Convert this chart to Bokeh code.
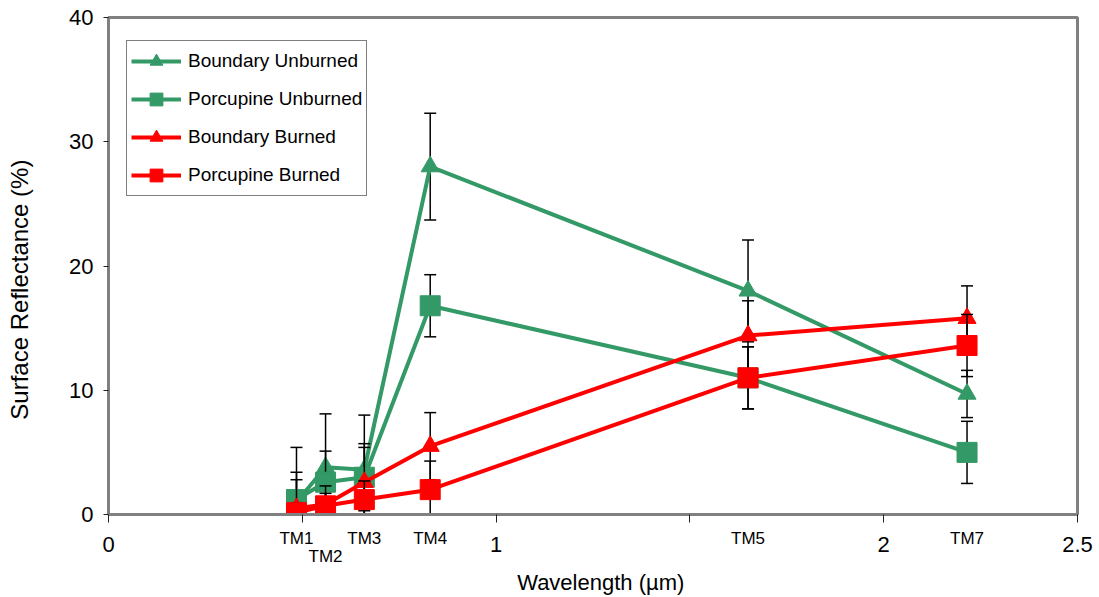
import math
from bokeh.plotting import figure
from bokeh.models import (Range1d, FixedTicker, Legend, LegendItem, Label,
                          ColumnDataSource, LinearAxis)
from bokeh.embed import file_html
from bokeh.resources import INLINE

# ---------------- data ----------------
bands = ["TM1", "TM2", "TM3", "TM4", "TM5", "TM7"]
wavelength = [0.485, 0.56, 0.66, 0.83, 1.65, 2.215]

series_names = ["Boundary Unburned", "Porcupine Unburned",
                "Boundary Burned", "Porcupine Burned"]

boundary_unburned = [1.0, 3.8, 3.6, 28.0, 18.0, 9.7]
porcupine_unburned = [1.2, 2.6, 3.0, 16.8, 11.0, 5.0]
boundary_burned = [0.5, 0.8, 2.6, 5.5, 14.4, 15.8]
porcupine_burned = [0.15, 0.7, 1.2, 2.0, 11.0, 13.6]

boundary_unburned_err = [4.4, 4.3, 4.4, 4.3, 4.1, 1.9]
porcupine_unburned_err = [2.2, 2.5, 2.7, 2.5, 2.5, 2.5]
boundary_burned_err = [2.3, 1.5, 2.8, 2.7, 2.8, 2.6]
porcupine_burned_err = [0.8, 1.0, 1.5, 2.3, 2.5, 2.5]

x_ticks = [0, 1, 2, 2.5]
x_tick_labels = ["0", "1", "2", "2.5"]
x_minor_ticks = [0.5, 1.5]
y_ticks = [0, 10, 20, 30, 40]

x_title = "Wavelength (µm)"
y_title = "Surface Reflectance (%)"

# ---------------- styles ----------------
FONT = "Liberation Sans"
GREEN = "#339966"
RED = "#FF0000"
GRAY = "#808080"

series = [
    (series_names[0], boundary_unburned, boundary_unburned_err, GREEN, "triangle", 18),
    (series_names[1], porcupine_unburned, porcupine_unburned_err, GREEN, "square", 20),
    (series_names[2], boundary_burned, boundary_burned_err, RED, "triangle", 18),
    (series_names[3], porcupine_burned, porcupine_burned_err, RED, "square", 20),
]

p = figure(width=1099, height=597,
           x_range=Range1d(0, 2.5), y_range=Range1d(0, 40),
           output_backend="svg", toolbar_location=None,
           min_border_left=108, min_border_right=22,
           min_border_top=17, min_border_bottom=83)
p.background_fill_color = "white"
p.border_fill_color = "white"
p.xgrid.visible = False
p.ygrid.visible = False
p.outline_line_color = GRAY
p.outline_line_width = 3

p.xaxis.ticker = FixedTicker(ticks=x_ticks, minor_ticks=x_minor_ticks)
p.xaxis.major_label_overrides = dict(zip(x_ticks, x_tick_labels))
p.yaxis.ticker = FixedTicker(ticks=y_ticks)

for ax in (p.xaxis[0], p.yaxis[0]):
    ax.axis_line_color = GRAY
    ax.axis_line_width = 3
    ax.major_tick_line_color = "#222222"
    ax.minor_tick_line_color = "#222222"
    ax.major_tick_in = 0
    ax.minor_tick_in = 0
    ax.major_label_text_font = FONT
    ax.major_label_text_font_size = "22px"
    ax.major_label_text_color = "black"
p.xaxis.major_tick_out = 8
p.xaxis.minor_tick_out = 8
p.xaxis.major_label_standoff = 14
p.yaxis.major_tick_out = 5
p.yaxis.minor_tick_out = 0
p.yaxis.major_label_standoff = 10


def band_axis(names, standoff):
    ticks = [wl for b, wl in zip(bands, wavelength) if b in names]
    labels = [b for b in bands if b in names]
    ax = LinearAxis(ticker=FixedTicker(ticks=ticks),
                    major_label_overrides=dict(zip(ticks, labels)),
                    axis_line_color=None, major_tick_line_color=None,
                    minor_tick_line_color=None,
                    major_tick_in=0, major_tick_out=0,
                    minor_tick_in=0, minor_tick_out=0,
                    major_label_standoff=standoff,
                    major_label_text_font=FONT,
                    major_label_text_font_size="17px",
                    major_label_text_color="black")
    p.add_layout(ax, "below")
    return ax


band_axis(["TM1", "TM3", "TM4", "TM5", "TM7"], -26)
band_axis(["TM2"], -8)

items = []
for name, vals, errs, color, marker, size in series:
    src = ColumnDataSource(dict(
        x=wavelength, y=vals,
        lo=[v - e for v, e in zip(vals, errs)],
        hi=[v + e for v, e in zip(vals, errs)],
    ))
    p.segment(x0="x", y0="lo", x1="x", y1="hi", source=src,
              line_color="black", line_width=1.5)
    p.scatter(x="x", y="hi", marker="dash", size=12, source=src,
              line_color="black", line_width=1.5)
    p.scatter(x="x", y="lo", marker="dash", size=12, source=src,
              line_color="black", line_width=1.5)
    lr = p.line(x="x", y="y", source=src, line_color=color, line_width=4)
    mr = p.scatter(x="x", y="y", marker=marker, size=size, source=src,
                   fill_color=color, line_color=color, line_width=1)
    items.append(LegendItem(label=name, renderers=[lr, mr]))

legend = Legend(items=items, location=(18, 318), margin=0,
                label_text_font=FONT, label_text_font_size="19px",
                label_text_color="black",
                glyph_width=50, glyph_height=32, label_height=32,
                spacing=6, padding=4, label_standoff=7,
                border_line_color="black", border_line_width=1,
                background_fill_color="white", background_fill_alpha=1)
p.add_layout(legend)

p.add_layout(Label(x=1.27, y=-5.45, x_units="data", y_units="data",
                   text=x_title, text_align="center", text_baseline="middle",
                   text_font=FONT, text_font_size="22px", text_color="black"),
             "below")
p.add_layout(Label(x=-0.2296, y=18.1, x_units="data", y_units="data",
                   text=y_title, angle=math.pi / 2,
                   text_align="center", text_baseline="middle",
                   text_font=FONT, text_font_size="24px", text_color="black"),
             "left")

open("out.html", "w").write(file_html(p, INLINE))
